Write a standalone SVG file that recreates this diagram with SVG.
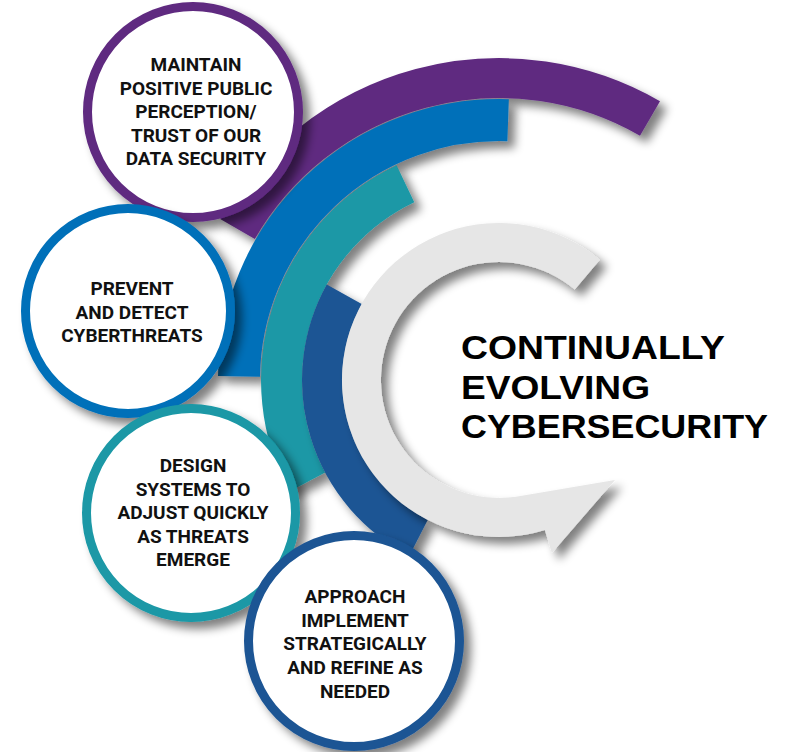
<svg xmlns="http://www.w3.org/2000/svg" width="786" height="752" viewBox="0 0 786 752">
<defs>
<filter id="sh" x="-30%" y="-30%" width="170%" height="170%">
<feGaussianBlur in="SourceAlpha" stdDeviation="5"/>
<feOffset dx="7" dy="7" result="o"/>
<feComponentTransfer><feFuncA type="linear" slope="0.5"/></feComponentTransfer>
<feMerge><feMergeNode/><feMergeNode in="SourceGraphic"/></feMerge>
</filter>
<style>
.arc{fill:none;stroke-linecap:butt;filter:url(#sh)}
.node circle{fill:#ffffff;stroke-width:9;filter:url(#sh)}
.lbl{font-family:Roboto,"Liberation Sans",sans-serif;font-weight:700;font-size:19px;fill:#111111;text-anchor:middle}
.title{font-family:"Liberation Sans",Arial,sans-serif;font-weight:700;font-size:34px;fill:#000000}
</style>
</defs>
<rect width="786" height="752" fill="#ffffff"/>
<g id="rings">
<path class="arc" d="M237.5,229 A302,302 0 0 1 650,118.5" stroke="#5f2a80" stroke-width="40"/>
<path class="arc" d="M239,376.4 A260,260 0 0 1 508.1,120.2" stroke="#0070b9" stroke-width="42"/>
<path class="arc" d="M307,482.1 A217.5,217.5 0 0 1 405.4,183.7" stroke="#1a98a6" stroke-width="41"/>
<path class="arc" d="M418.6,537.7 A177,177 0 0 1 344.2,294.2" stroke="#1c5594" stroke-width="40"/>
<path d="M599.9,259.7 A157,157 0 1 0 544.9,530.1 L551.9,553.1 L615,480 L523.5,495.4 A118,118 0 1 1 574.8,289.6 Z" fill="#e6e6e6" filter="url(#sh)"/>
</g>
<g id="node-purple" class="node">
<circle cx="193" cy="112" r="105.5" stroke="#5f2a80"/>
<text class="lbl" x="196" y="71">MAINTAIN</text>
<text class="lbl" x="196" y="94.5">POSITIVE PUBLIC</text>
<text class="lbl" x="196" y="118">PERCEPTION/</text>
<text class="lbl" x="196" y="141.5">TRUST OF OUR</text>
<text class="lbl" x="196" y="165">DATA SECURITY</text>
</g>
<g id="node-blue" class="node">
<circle cx="128" cy="311" r="102.5" stroke="#0070b9"/>
<text class="lbl" x="132" y="295">PREVENT</text>
<text class="lbl" x="132" y="318.5">AND DETECT</text>
<text class="lbl" x="132" y="342">CYBERTHREATS</text>
</g>
<g id="node-teal" class="node">
<circle cx="191" cy="513" r="104.5" stroke="#1a98a6"/>
<text class="lbl" x="193" y="472">DESIGN</text>
<text class="lbl" x="193" y="495.5">SYSTEMS TO</text>
<text class="lbl" x="193" y="519">ADJUST QUICKLY</text>
<text class="lbl" x="193" y="542.5">AS THREATS</text>
<text class="lbl" x="193" y="566">EMERGE</text>
</g>
<g id="node-darkblue" class="node">
<circle cx="354" cy="641" r="105.5" stroke="#1c5594"/>
<text class="lbl" x="355" y="603">APPROACH</text>
<text class="lbl" x="355" y="626.5">IMPLEMENT</text>
<text class="lbl" x="355" y="650">STRATEGICALLY</text>
<text class="lbl" x="355" y="674">AND REFINE AS</text>
<text class="lbl" x="355" y="697.5">NEEDED</text>
</g>
<g id="title">
<text class="title" x="461" y="359" textLength="264" lengthAdjust="spacingAndGlyphs">CONTINUALLY</text>
<text class="title" x="461" y="398.5" textLength="189" lengthAdjust="spacingAndGlyphs">EVOLVING</text>
<text class="title" x="461" y="438" textLength="307" lengthAdjust="spacingAndGlyphs">CYBERSECURITY</text>
</g>
</svg>
